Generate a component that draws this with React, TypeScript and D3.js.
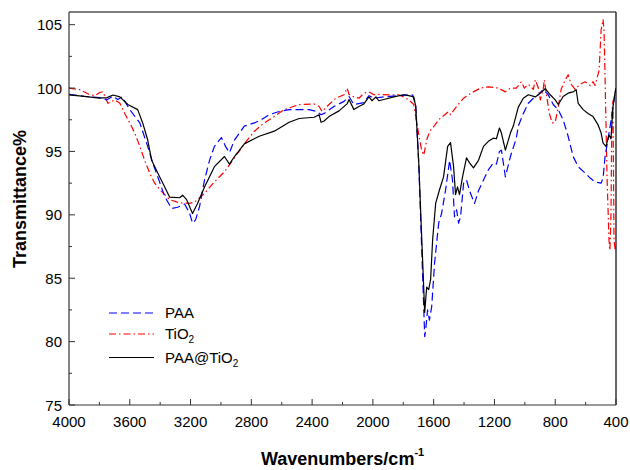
import React from "react";
import * as d3 from "d3";

const xTicks = [4000, 3600, 3200, 2800, 2400, 2000, 1600, 1200, 800, 400];
const yTicks = [75, 80, 85, 90, 95, 100, 105];

const paaWn = [4000,3900,3797,3751,3711,3679,3650,3600,3534,3482,3449,3416,3370,3325,3285,3239,3207,3187,3167,3141,3108,3075,3043,2997,2970,2944,2911,2879,2846,2780,2734,2682,2617,2551,2420,2367,2341,2321,2256,2190,2157,2125,2059,2026,1993,1928,1830,1764,1738,1718,1698,1685,1672,1659,1652,1640,1628,1613,1594,1567,1548,1521,1495,1476,1463,1449,1436,1423,1403,1384,1364,1331,1305,1272,1240,1207,1187,1167,1154,1128,1095,1076,1056,1043,1010,977,944,911,879,846,813,780,748,715,682,649,603,570,538,498,485,472,452,433,407,400];
const paaT = [99.5,99.35,99.25,99.07,99.35,99.1,99.3,98.3,97.25,95.4,94.1,93.0,91.45,90.5,90.6,90.85,90.15,89.35,89.6,90.65,92.75,94.3,95.4,96.1,95.4,94.9,95.9,96.45,97.0,97.25,97.5,97.9,98.15,98.3,98.3,98.15,97.9,98.0,98.55,98.95,99.33,98.7,98.85,99.4,99.2,99.3,99.4,99.47,99.45,98.6,94.0,89.5,85.0,80.4,81.0,82.5,81.7,82.75,86.2,89.35,90.1,92.0,94.3,92.75,89.85,90.4,89.35,89.85,92.5,92.75,91.9,90.9,91.9,92.75,93.55,94.1,94.0,95.0,95.1,93.0,94.6,95.3,96.05,97.0,98.0,98.8,99.2,99.47,99.9,99.47,98.7,98.3,97.5,96.2,94.6,93.8,93.3,92.9,92.6,92.5,92.9,94.6,96.0,97.4,99.6,100.0];

const tio2Wn = [4000,3928,3862,3830,3797,3777,3744,3698,3665,3633,3600,3567,3534,3502,3469,3436,3403,3338,3272,3207,3174,3108,3043,2977,2911,2846,2780,2715,2649,2584,2485,2387,2354,2334,2289,2243,2190,2170,2157,2125,2092,2059,2026,1993,1961,1895,1830,1797,1764,1731,1711,1692,1679,1665,1646,1626,1600,1567,1502,1489,1449,1403,1371,1338,1292,1240,1174,1128,1095,1056,1023,1003,977,944,931,911,898,879,872,859,839,820,800,780,761,734,715,695,669,636,603,570,551,538,511,498,485,479,472,459,446,440,433,427,420,413,405];
const tio2T = [100.0,99.87,99.47,99.4,99.65,99.7,98.8,99.07,98.8,98.0,97.25,96.45,95.4,94.3,93.3,92.5,92.0,91.2,90.95,90.9,91.0,91.7,92.6,93.4,94.5,95.6,96.6,97.25,97.75,98.3,98.7,98.75,98.55,98.15,98.7,99.2,99.47,100.0,99.5,99.3,99.2,99.6,99.7,99.47,99.5,99.47,99.47,99.3,99.07,98.7,97.25,95.9,95.1,94.7,95.9,96.6,96.95,97.5,98.15,97.9,98.55,99.2,99.47,99.7,100.0,100.1,100.0,99.7,100.0,100.0,100.5,100.0,100.3,99.9,100.65,100.0,99.07,99.9,100.65,99.6,98.0,97.25,97.3,98.5,99.9,100.65,101.05,100.3,99.9,100.3,100.5,100.2,100.5,100.2,101.4,104.6,105.4,104.6,100.9,93.0,88.0,87.2,90.0,98.0,99.0,88.0,87.2];

const compWn = [4000,3900,3800,3750,3710,3665,3613,3548,3515,3482,3456,3416,3370,3338,3272,3252,3226,3187,3154,3108,3043,2977,2944,2911,2846,2748,2649,2551,2485,2387,2354,2341,2321,2289,2223,2170,2157,2125,2092,2059,2026,2006,1980,1961,1928,1862,1797,1764,1731,1718,1698,1685,1672,1659,1646,1633,1620,1607,1587,1561,1535,1508,1489,1469,1456,1443,1430,1410,1384,1364,1338,1305,1272,1240,1207,1187,1167,1154,1128,1095,1076,1043,1010,977,931,898,866,833,800,780,748,715,682,662,649,616,584,551,518,498,485,466,446,433,420,407,400];
const compT = [99.47,99.35,99.2,99.25,99.45,99.3,98.7,98.3,97.25,95.9,94.3,93.3,92.2,91.4,91.35,91.55,91.2,90.1,90.9,92.2,93.8,94.6,94.0,94.6,95.6,96.2,96.6,97.3,97.6,97.7,97.9,97.3,97.4,97.75,98.2,98.75,99.1,98.3,98.55,98.75,99.3,99.0,99.3,99.0,99.1,99.3,99.47,99.4,99.3,98.55,94.1,90.1,86.2,82.3,84.3,84.1,84.9,88.0,90.9,92.0,93.0,95.4,95.7,93.8,91.6,92.2,91.6,93.0,94.5,94.1,93.7,94.3,95.4,95.8,96.05,96.0,96.85,96.45,95.1,96.45,97.0,98.5,99.2,99.47,99.3,99.6,99.95,99.47,99.07,98.7,99.33,99.6,99.7,99.87,98.8,98.3,98.0,97.75,97.1,96.45,95.65,95.4,96.3,96.0,98.5,99.6,99.9];

const seriesNames = ["PAA", "TiO2", "PAA@TiO2"];
const seriesColors = ["#0000ff", "#ff0000", "#000000"];
const seriesDash = ["8,4", "7,3,1.5,3", "none"];

export default function App() {
  const left = 69, right = 616, top = 12, bottom = 405;
  const x = d3.scaleLinear().domain([4000, 400]).range([left, right]);
  const y = d3.scaleLinear().domain([75, 106]).range([bottom, top]);
  const line = d3.line<[number, number]>().x(d => x(d[0])).y(d => y(d[1]));
  const series: [number, number][][] = [
    paaWn.map((w, i) => [w, paaT[i]]),
    tio2Wn.map((w, i) => [w, tio2T[i]]),
    compWn.map((w, i) => [w, compT[i]]),
  ];
  const order = [1, 0, 2];
  const minorX = d3.range(3800, 400, -400);
  const minorY = d3.range(77.5, 106, 5);
  const font = "Liberation Sans, Arial, sans-serif";
  const legendY = [313, 334, 357.5];

  return (
    <svg width={630} height={470} style={{ position: "absolute", left: 0, top: 0, background: "#fff" }} fontFamily={font}>
      <rect x={0} y={0} width={630} height={470} fill="#fff" />
      <defs>
        <clipPath id="plot"><rect x={left} y={top} width={right - left} height={bottom - top} /></clipPath>
      </defs>
      <g clipPath="url(#plot)" fill="none" strokeWidth={1.2} strokeLinejoin="round">
        {order.map(i => (
          <path key={i} d={line(series[i]) || ""} stroke={seriesColors[i]} strokeDasharray={seriesDash[i]} />
        ))}
      </g>
      {/* frame */}
      <line x1={left} x2={right} y1={top} y2={top} stroke="#000" strokeWidth={1.2} />
      <line x1={right} x2={right} y1={top} y2={bottom} stroke="#000" strokeWidth={1.2} />
      <line x1={left} x2={left} y1={top} y2={bottom} stroke="#333" strokeWidth={1.2} />
      <line x1={left} x2={right} y1={bottom} y2={bottom} stroke="#333" strokeWidth={1.2} />
      {/* x ticks */}
      {xTicks.map(t => (
        <g key={"xt" + t}>
          <line x1={x(t)} x2={x(t)} y1={bottom} y2={bottom - 6} stroke="#333" />
          <text x={x(t)} y={427} textAnchor="middle" fontSize={15} fill="#000">{t}</text>
        </g>
      ))}
      {minorX.map(t => (
        <line key={"xm" + t} x1={x(t)} x2={x(t)} y1={bottom} y2={bottom - 3} stroke="#333" />
      ))}
      {/* y ticks */}
      {yTicks.map(t => (
        <g key={"yt" + t}>
          <line x1={left} x2={left + 6} y1={y(t)} y2={y(t)} stroke="#333" />
          <text x={62} y={y(t) + 5.5} textAnchor="end" fontSize={15} fill="#000">{t}</text>
        </g>
      ))}
      {minorY.map(t => (
        <line key={"ym" + t} x1={left} x2={left + 3} y1={y(t)} y2={y(t)} stroke="#333" />
      ))}
      {/* axis titles */}
      <text transform="translate(26,199) rotate(-90)" textAnchor="middle" fontSize={18} fontWeight="bold" fill="#000">Transmittance%</text>
      <text x={261} y={465} fontSize={18} fontWeight="bold" fill="#000">
        Wavenumbers/cm<tspan dy={-9} fontSize={11}>-1</tspan>
      </text>
      {/* legend */}
      {seriesNames.map((n, i) => (
        <g key={n}>
          <line x1={109} x2={154} y1={legendY[i]} y2={legendY[i]} stroke={seriesColors[i]} strokeWidth={1.2} strokeDasharray={seriesDash[i]} />
          {n.endsWith("TiO2") ? (
            <text x={165} y={legendY[i] + 5} fontSize={15} fill="#000">
              {n.slice(0, -1)}<tspan dy={4} fontSize={10}>2</tspan>
            </text>
          ) : (
            <text x={165} y={legendY[i] + 5} fontSize={15} fill="#000">{n}</text>
          )}
        </g>
      ))}
    </svg>
  );
}
